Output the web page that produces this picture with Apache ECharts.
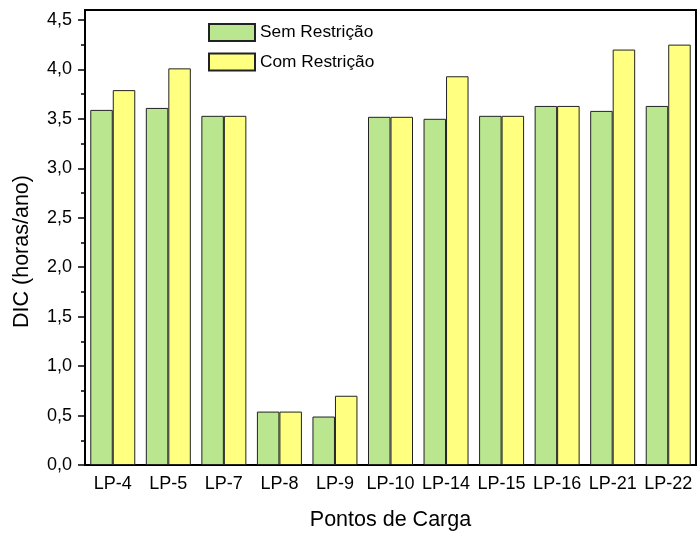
<!DOCTYPE html>
<html><head><meta charset="utf-8">
<script src="https://cdn.jsdelivr.net/npm/echarts@6/dist/echarts.min.js"></script>
<style>html,body{margin:0;padding:0;background:#fff}#c{width:697px;height:536px}</style>
</head><body><div id="c"></div>
<script>
const categories = ['LP-4','LP-5','LP-7','LP-8','LP-9','LP-10','LP-14','LP-15','LP-16','LP-21','LP-22'];
const semRestricao = [3.59, 3.61, 3.53, 0.54, 0.49, 3.52, 3.50, 3.53, 3.63, 3.58, 3.63];
const comRestricao = [3.79, 4.01, 3.53, 0.54, 0.70, 3.52, 3.93, 3.53, 3.63, 4.20, 4.25];
const yMajorTicks = [0, 0.5, 1, 1.5, 2, 2.5, 3, 3.5, 4, 4.5];
const yMinorTicks = [0.25, 0.75, 1.25, 1.75, 2.25, 2.75, 3.25, 3.75, 4.25];
const seriesNames = ['Sem Restrição', 'Com Restrição'];

const FONT = '"Liberation Sans", Arial, sans-serif';
const chart = echarts.init(document.getElementById('c'), null, {renderer:'canvas'});
chart.setOption({
  animation: false,
  backgroundColor: '#fff',
  textStyle: {fontFamily: FONT, color: '#000'},
  legend: {
    orient: 'vertical', left: 208, top: 23, padding: 0,
    icon: 'rect',
    itemWidth: 46, itemHeight: 17, itemGap: 10.5,
    textStyle: {fontSize: 17.3, fontFamily: FONT, color: '#000', lineHeight: 17},
    data: seriesNames
  },
  grid: {left: 85, right: 1, top: 10, bottom: 69, containLabel: false,
    show: true, borderColor: '#000', borderWidth: 2, backgroundColor: 'transparent'},
  xAxis: [{
    type: 'category', data: categories, position: 'bottom',
    axisLine: {lineStyle: {color: '#000', width: 2}},
    axisTick: {alignWithLabel: true, length: 8, lineStyle: {color: '#000', width: 1.5}},
    axisLabel: {fontSize: 18, color: '#000', fontFamily: FONT, margin: 10, interval: 0},
    name: 'Pontos de Carga', nameLocation: 'middle', nameGap: 44,
    nameTextStyle: {fontSize: 21.5, color: '#000', fontFamily: FONT},
    splitLine: {show: false}
  }],
  yAxis: [{
    type: 'value', min: 0, max: 4.6, interval: 0.5, position: 'left',
    axisLine: {show: true, lineStyle: {color: '#000', width: 2}},
    axisTick: {show: true, length: 7, customValues: yMajorTicks, lineStyle: {color: '#000', width: 1.5}},
    axisLabel: {fontSize: 18, color: '#000', fontFamily: FONT, margin: 13, customValues: yMajorTicks,
      formatter: v => v.toFixed(1).replace('.', ',')},
    splitLine: {show: false},
    name: 'DIC (horas/ano)', nameLocation: 'middle', nameGap: 52,
    nameTextStyle: {fontSize: 21.5, color: '#000', fontFamily: FONT, padding: [0, 28, 0, 0]}
  }, {
    type: 'value', min: 0, max: 4.6, interval: 0.5, position: 'left',
    axisLine: {show: false},
    axisTick: {show: true, length: 4, customValues: yMinorTicks, lineStyle: {color: '#000', width: 1.5}},
    axisLabel: {show: false}, splitLine: {show: false}
  }],
  series: [{
    name: seriesNames[0], type: 'bar', data: semRestricao,
    barWidth: 22.5, barGap: '0%',
    itemStyle: {color: '#b9e68e', borderColor: '#222', borderWidth: 1}
  }, {
    name: seriesNames[1], type: 'bar', data: comRestricao,
    barWidth: 22.5, barGap: '0%',
    itemStyle: {color: '#ffff80', borderColor: '#222', borderWidth: 1}
  }]
});
</script></body></html>
